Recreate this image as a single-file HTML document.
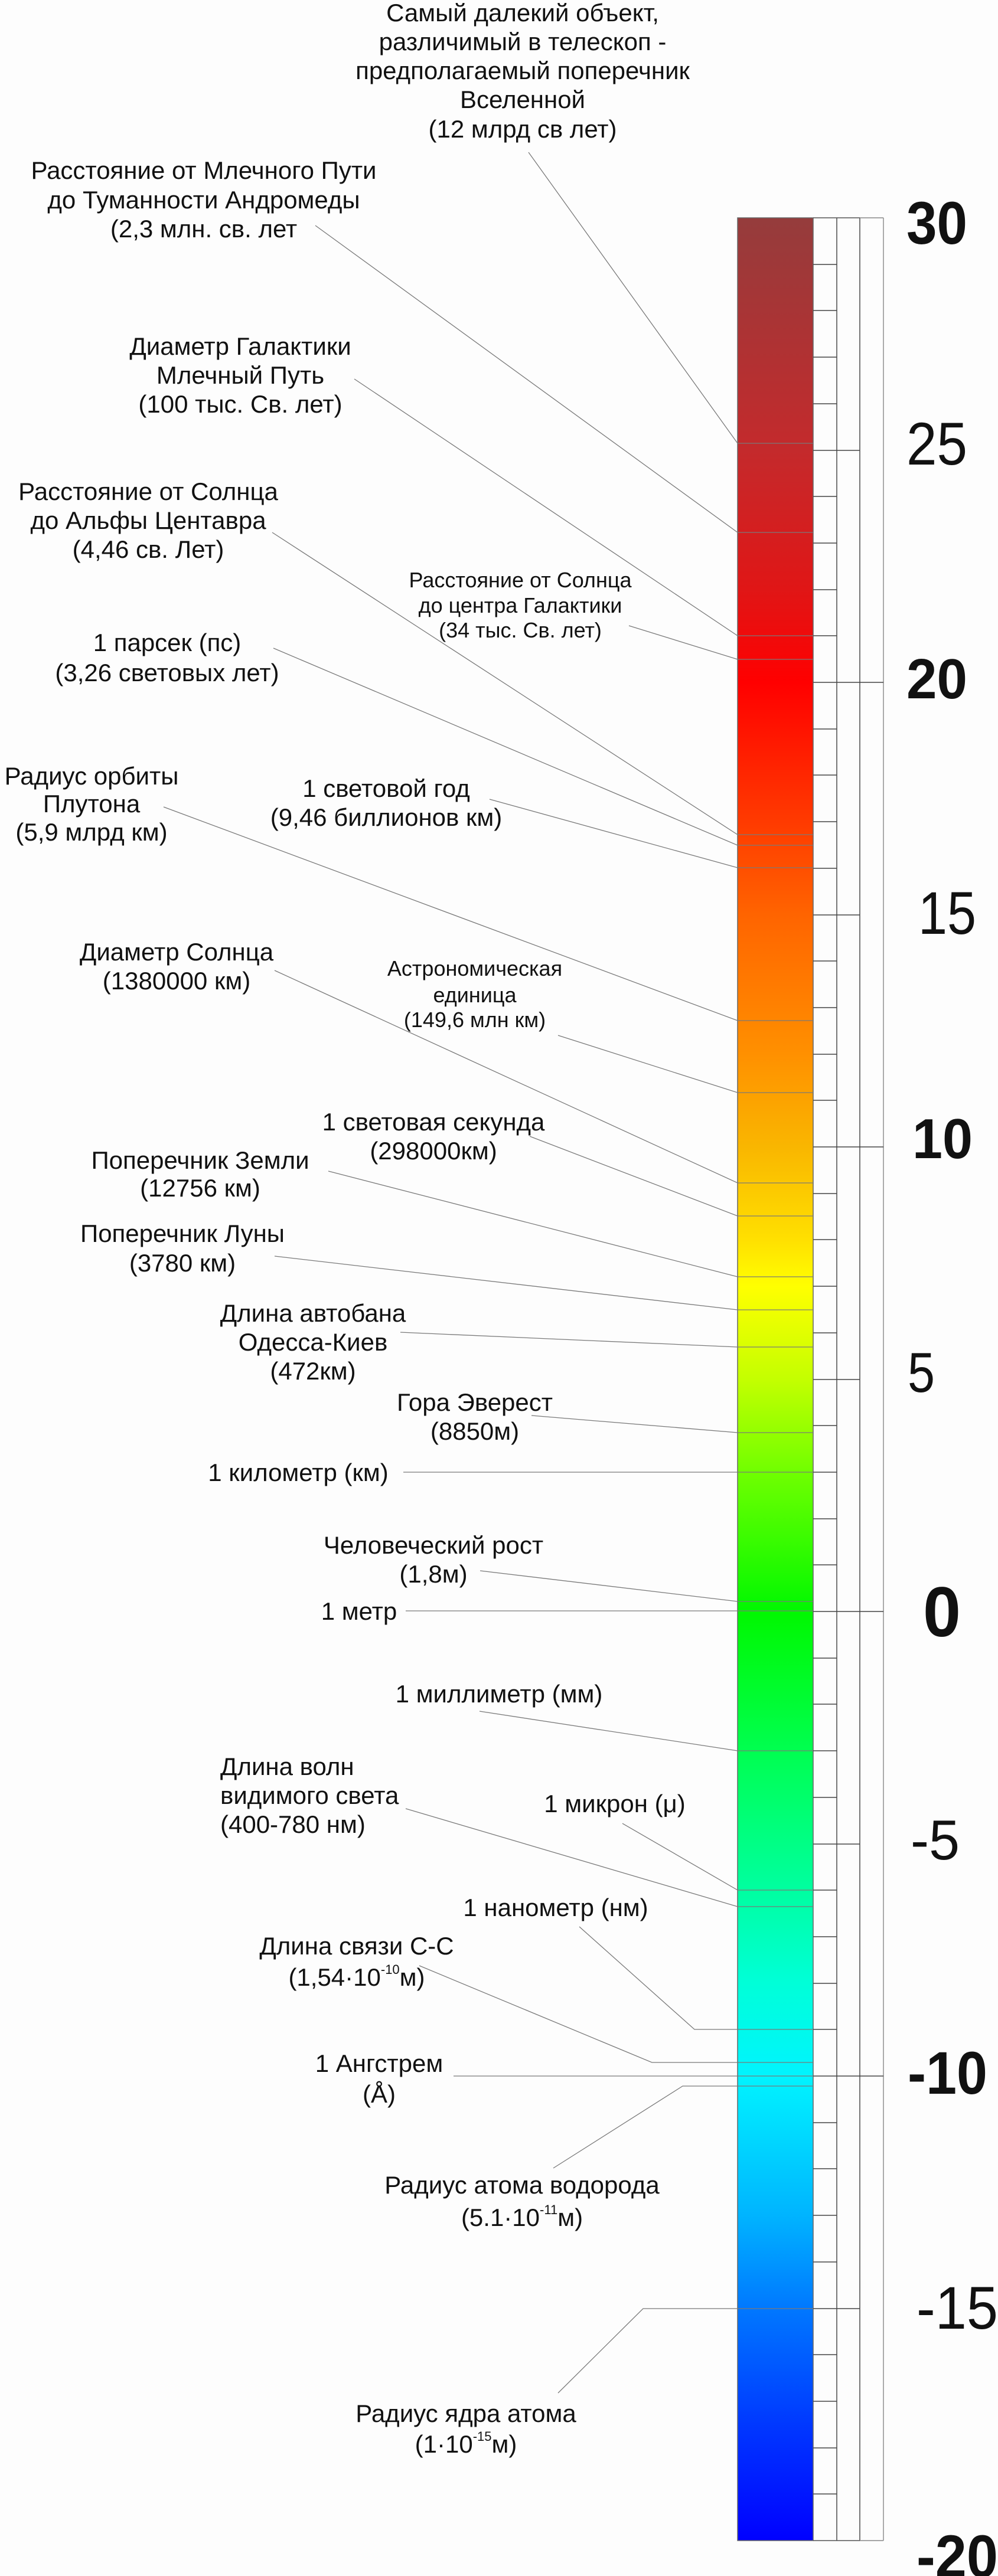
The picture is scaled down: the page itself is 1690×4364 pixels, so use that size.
<!DOCTYPE html>
<html><head><meta charset="utf-8"><style>
html,body{margin:0;padding:0;background:#fdfdfd;}
svg{display:block;}
text{font-family:"Liberation Sans","Noto Sans CJK SC",sans-serif;fill:#111;}
</style></head><body>
<svg width="1690" height="4364" viewBox="0 0 1690 4364" xmlns="http://www.w3.org/2000/svg">
<defs>
<linearGradient id="g" x1="0" y1="369" x2="0" y2="4304" gradientUnits="userSpaceOnUse">
<stop offset="0" stop-color="#953c3c"/>
<stop offset="0.10" stop-color="#c42a2c"/>
<stop offset="0.16" stop-color="#e01616"/>
<stop offset="0.20" stop-color="#ff0000"/>
<stop offset="0.26" stop-color="#ff3a00"/>
<stop offset="0.30" stop-color="#ff6400"/>
<stop offset="0.36" stop-color="#ff9000"/>
<stop offset="0.40" stop-color="#f9b600"/>
<stop offset="0.44" stop-color="#ffe000"/>
<stop offset="0.46" stop-color="#ffff00"/>
<stop offset="0.50" stop-color="#c4ff00"/>
<stop offset="0.54" stop-color="#70ff00"/>
<stop offset="0.60" stop-color="#00f800"/>
<stop offset="0.66" stop-color="#00ff50"/>
<stop offset="0.72" stop-color="#00ffa0"/>
<stop offset="0.76" stop-color="#00ffd8"/>
<stop offset="0.80" stop-color="#00f4ff"/>
<stop offset="0.86" stop-color="#00b4ff"/>
<stop offset="0.90" stop-color="#0078ff"/>
<stop offset="0.95" stop-color="#0038ff"/>
<stop offset="1" stop-color="#0000ff"/>
</linearGradient>
</defs>
<rect x="0" y="0" width="1690" height="4364" fill="#fdfdfd"/>
<rect x="1249" y="369" width="128" height="3935" fill="url(#g)" stroke="#666" stroke-width="1.5"/>
<g stroke="#555" stroke-width="1.6" fill="none">
<line x1="1417" y1="369" x2="1417" y2="4304"/>
<line x1="1456" y1="369" x2="1456" y2="4304"/>
<line x1="1377" y1="369" x2="1456" y2="369"/>
<line x1="1377" y1="4304" x2="1456" y2="4304"/>
</g>
<g stroke="#888" stroke-width="1.4" fill="none">
<line x1="1496" y1="369" x2="1496" y2="4304"/>
<line x1="1456" y1="369" x2="1496" y2="369"/>
<line x1="1456" y1="4304" x2="1496" y2="4304"/>
</g>
<g id="ticks" stroke="#444" stroke-width="1.5"></g>
<g stroke="#7a7a7a" stroke-width="1.3" fill="none">
<!-- leaders -->
<polyline points="895,258 1249,751 1377,751"/>
<polyline points="534,382 1249,902 1377,902"/>
<polyline points="600,642 1249,1077 1377,1077"/>
<polyline points="1065,1060 1249,1117 1377,1117"/>
<polyline points="461,902 1249,1414 1377,1414"/>
<polyline points="463,1098 1249,1432 1377,1432"/>
<polyline points="829,1354 1249,1470 1377,1470"/>
<polyline points="277,1367 1249,1729 1377,1729"/>
<polyline points="945,1754 1249,1851 1377,1851"/>
<polyline points="465,1644 1249,2004 1377,2004"/>
<polyline points="897,1925 1249,2060 1377,2060"/>
<polyline points="556,1984 1249,2163 1377,2163"/>
<polyline points="465,2128 1249,2219 1377,2219"/>
<polyline points="678,2257 1249,2282 1377,2282"/>
<polyline points="900,2398 1249,2427 1377,2427"/>
<polyline points="683,2494 1377,2494"/>
<polyline points="813,2661 1249,2713 1377,2713"/>
<polyline points="687,2729 1377,2729"/>
<polyline points="812,2899 1249,2966 1377,2966"/>
<polyline points="687,3064 1249,3230 1377,3230"/>
<polyline points="1054,3089 1249,3202 1377,3202"/>
<polyline points="981,3264 1176,3438 1377,3438"/>
<polyline points="710,3330 1104,3494 1377,3494"/>
<polyline points="768,3517 1377,3517"/>
<polyline points="937,3673 1156,3534 1377,3534"/>
<polyline points="945,4054 1089,3911 1377,3911"/>
</g>
<g font-size="42" text-anchor="middle">
<text x="885" y="36">Самый далекий объект,</text>
<text x="885" y="85">различимый в телескоп -</text>
<text x="885" y="134">предполагаемый поперечник</text>
<text x="885" y="183">Вселенной</text>
<text x="885" y="233">(12 млрд св лет)</text>

<text x="345" y="303">Расстояние от Млечного Пути</text>
<text x="345" y="353">до Туманности Андромеды</text>
<text x="345" y="402">(2,3 млн. св. лет</text>

<text x="407" y="601">Диаметр Галактики</text>
<text x="407" y="650">Млечный Путь</text>
<text x="407" y="699">(100 тыс. Св. лет)</text>

<text x="251" y="847">Расстояние от Солнца</text>
<text x="251" y="896">до Альфы Центавра</text>
<text x="251" y="945">(4,46 св. Лет)</text>

<text x="283" y="1103">1 парсек (пс)</text>
<text x="283" y="1154">(3,26 световых лет)</text>

<text x="155" y="1329">Радиус орбиты</text>
<text x="155" y="1376">Плутона</text>
<text x="155" y="1424">(5,9 млрд км)</text>

<text x="654" y="1350">1 световой год</text>
<text x="654" y="1399">(9,46 биллионов км)</text>

<text x="299" y="1627">Диаметр Солнца</text>
<text x="299" y="1676">(1380000 км)</text>

<text x="734" y="1915">1 световая секунда</text>
<text x="734" y="1964">(298000км)</text>

<text x="339" y="1980">Поперечник Земли</text>
<text x="339" y="2027">(12756 км)</text>

<text x="309" y="2104">Поперечник Луны</text>
<text x="309" y="2154">(3780 км)</text>

<text x="530" y="2239">Длина автобана</text>
<text x="530" y="2288">Одесса-Киев</text>
<text x="530" y="2337">(472км)</text>

<text x="804" y="2390">Гора Эверест</text>
<text x="804" y="2439">(8850м)</text>

<text x="505" y="2509">1 километр (км)</text>

<text x="734" y="2632">Человеческий рост</text>
<text x="734" y="2681">(1,8м)</text>

<text x="608" y="2744">1 метр</text>

<text x="845" y="2884">1 миллиметр (мм)</text>

<text x="1041" y="3070">1 микрон (μ)</text>

<text x="941" y="3246">1 нанометр (нм)</text>

<text x="604" y="3311">Длина связи С-С</text>
<text x="604" y="3364">(1,54·10<tspan font-size="22" dy="-20">-10</tspan><tspan dy="20">м)</tspan></text>

<text x="642" y="3510">1 Ангстрем</text>
<text x="642" y="3562">(Å)</text>

<text x="884" y="3716">Радиус атома водорода</text>
<text x="884" y="3771">(5.1·10<tspan font-size="22" dy="-20">-11</tspan><tspan dy="20">м)</tspan></text>

<text x="789" y="4103">Радиус ядра атома</text>
<text x="789" y="4155">(1·10<tspan font-size="22" dy="-20">-15</tspan><tspan dy="20">м)</tspan></text>
</g>
<g font-size="42" text-anchor="start">
<text x="373" y="3007">Длина волн</text>
<text x="373" y="3056">видимого света</text>
<text x="373" y="3105">(400-780 нм)</text>
</g>
<g font-size="36" text-anchor="middle">
<text x="881" y="995">Расстояние от Солнца</text>
<text x="881" y="1038">до центра Галактики</text>
<text x="881" y="1080">(34 тыс. Св. лет)</text>
<text x="804" y="1653">Астрономическая</text>
<text x="804" y="1698">единица</text>
<text x="804" y="1740">(149,6 млн км)</text>
</g>
<g font-size="102">
<text x="1535" y="413" font-weight="bold" textLength="103" lengthAdjust="spacingAndGlyphs">30</text>
<text x="1535" y="787" textLength="103" lengthAdjust="spacingAndGlyphs">25</text>
<text x="1535" y="1183" font-weight="bold" font-size="96" textLength="103" lengthAdjust="spacingAndGlyphs">20</text>
<text x="1555" y="1582" textLength="98" lengthAdjust="spacingAndGlyphs">15</text>
<text x="1545" y="1962" font-weight="bold" font-size="96" textLength="102" lengthAdjust="spacingAndGlyphs">10</text>
<text x="1537" y="2358" font-size="96" textLength="46" lengthAdjust="spacingAndGlyphs">5</text>
<text x="1563" y="2772" font-weight="bold" font-size="120" textLength="64" lengthAdjust="spacingAndGlyphs">0</text>
<text x="1542" y="3150" font-size="96" textLength="83" lengthAdjust="spacingAndGlyphs">-5</text>
<text x="1537" y="3547" font-weight="bold" textLength="135" lengthAdjust="spacingAndGlyphs">-10</text>
<text x="1552" y="3945" textLength="138" lengthAdjust="spacingAndGlyphs">-15</text>
<text x="1552" y="4366" font-weight="bold" textLength="138" lengthAdjust="spacingAndGlyphs">-20</text>
</g>
<g stroke="#444" stroke-width="1.5">
<line x1="1377" y1="448" x2="1417" y2="448"/><line x1="1377" y1="526" x2="1417" y2="526"/><line x1="1377" y1="605" x2="1417" y2="605"/><line x1="1377" y1="684" x2="1417" y2="684"/>
<line x1="1377" y1="763" x2="1456" y2="763"/>
<line x1="1377" y1="841" x2="1417" y2="841"/><line x1="1377" y1="920" x2="1417" y2="920"/><line x1="1377" y1="999" x2="1417" y2="999"/><line x1="1377" y1="1077" x2="1417" y2="1077"/>
<line x1="1377" y1="1156" x2="1496" y2="1156"/>
<line x1="1377" y1="1235" x2="1417" y2="1235"/><line x1="1377" y1="1313" x2="1417" y2="1313"/><line x1="1377" y1="1392" x2="1417" y2="1392"/><line x1="1377" y1="1471" x2="1417" y2="1471"/>
<line x1="1377" y1="1550" x2="1456" y2="1550"/>
<line x1="1377" y1="1628" x2="1417" y2="1628"/><line x1="1377" y1="1707" x2="1417" y2="1707"/><line x1="1377" y1="1786" x2="1417" y2="1786"/><line x1="1377" y1="1864" x2="1417" y2="1864"/>
<line x1="1377" y1="1943" x2="1496" y2="1943"/>
<line x1="1377" y1="2022" x2="1417" y2="2022"/><line x1="1377" y1="2100" x2="1417" y2="2100"/><line x1="1377" y1="2179" x2="1417" y2="2179"/><line x1="1377" y1="2258" x2="1417" y2="2258"/>
<line x1="1377" y1="2337" x2="1456" y2="2337"/>
<line x1="1377" y1="2415" x2="1417" y2="2415"/><line x1="1377" y1="2494" x2="1417" y2="2494"/><line x1="1377" y1="2573" x2="1417" y2="2573"/><line x1="1377" y1="2651" x2="1417" y2="2651"/>
<line x1="1377" y1="2730" x2="1496" y2="2730"/>
<line x1="1377" y1="2809" x2="1417" y2="2809"/><line x1="1377" y1="2887" x2="1417" y2="2887"/><line x1="1377" y1="2966" x2="1417" y2="2966"/><line x1="1377" y1="3045" x2="1417" y2="3045"/>
<line x1="1377" y1="3124" x2="1456" y2="3124"/>
<line x1="1377" y1="3202" x2="1417" y2="3202"/><line x1="1377" y1="3281" x2="1417" y2="3281"/><line x1="1377" y1="3360" x2="1417" y2="3360"/><line x1="1377" y1="3438" x2="1417" y2="3438"/>
<line x1="1377" y1="3517" x2="1496" y2="3517"/>
<line x1="1377" y1="3596" x2="1417" y2="3596"/><line x1="1377" y1="3674" x2="1417" y2="3674"/><line x1="1377" y1="3753" x2="1417" y2="3753"/><line x1="1377" y1="3832" x2="1417" y2="3832"/>
<line x1="1377" y1="3911" x2="1456" y2="3911"/>
<line x1="1377" y1="3989" x2="1417" y2="3989"/><line x1="1377" y1="4068" x2="1417" y2="4068"/><line x1="1377" y1="4147" x2="1417" y2="4147"/><line x1="1377" y1="4225" x2="1417" y2="4225"/>
</g>
</svg>
</body></html>
